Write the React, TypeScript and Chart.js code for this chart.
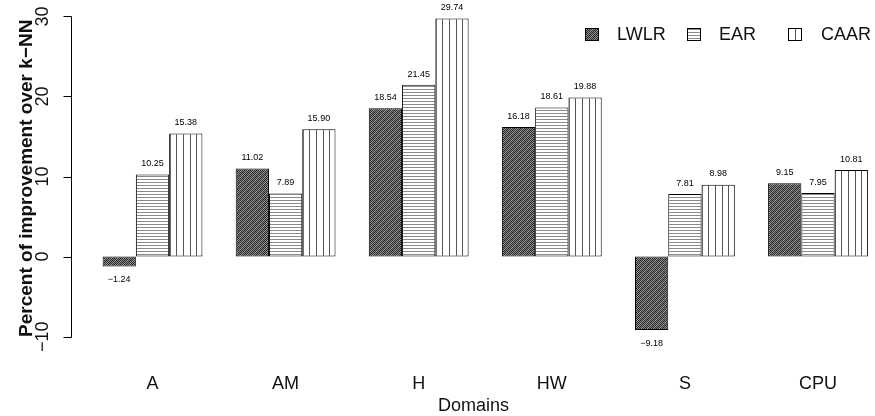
import React, { useEffect, useRef } from 'react';
import { Chart, registerables } from 'chart.js';

Chart.register(...registerables);

const categories = ['A', 'AM', 'H', 'HW', 'S', 'CPU'];
const seriesNames = ['LWLR', 'EAR', 'CAAR'];
const lwlrValues = [-1.24, 11.02, 18.54, 16.18, -9.18, 9.15];
const earValues = [10.25, 7.89, 21.45, 18.61, 7.81, 7.95];
const caarValues = [15.38, 15.9, 29.74, 19.88, 8.98, 10.81];
const yTickValues = [-10, 0, 10, 20, 30];
const xTitle = 'Domains';
const yTitle = 'Percent of improvement over k\u2212NN';

const FONT = '"Liberation Sans", Arial, Helvetica, sans-serif';

function fmtValue(v: number): string {
  const s = Math.abs(v).toFixed(2);
  return v < 0 ? '\u2212' + s : s;
}
function fmtTick(v: number): string {
  return v < 0 ? '\u2212' + Math.abs(v) : String(v);
}

function makePattern(ctx: CanvasRenderingContext2D, w: number, h: number, draw: (c: CanvasRenderingContext2D) => void) {
  const c = document.createElement('canvas');
  c.width = w;
  c.height = h;
  const tctx = c.getContext('2d') as CanvasRenderingContext2D;
  draw(tctx);
  return ctx.createPattern(c, 'repeat') as CanvasPattern;
}

export default function App() {
  const ref = useRef<HTMLCanvasElement | null>(null);

  useEffect(() => {
    const canvas = ref.current;
    if (!canvas) return;
    const ctx = canvas.getContext('2d') as CanvasRenderingContext2D;

    // LWLR: dark fine checker with light diagonal hatching
    const lwlrPat = makePattern(ctx, 6, 6, (t) => {
      const img = t.createImageData(6, 6);
      for (let y = 0; y < 6; y++) {
        for (let x = 0; x < 6; x++) {
          const s = (x + y) % 6;
          let v = (x + y) % 2 === 0 ? 0x2c : 0x7e;
          if (s === 3) v = 0xa6;
          const i = (y * 6 + x) * 4;
          img.data[i] = v; img.data[i + 1] = v; img.data[i + 2] = v; img.data[i + 3] = 255;
        }
      }
      t.putImageData(img, 0, 0);
    });
    // EAR: horizontal gray lines
    const earPat = makePattern(ctx, 4, 3, (t) => {
      t.fillStyle = '#ffffff';
      t.fillRect(0, 0, 4, 3);
      t.fillStyle = '#8a8a8a';
      t.fillRect(0, 2, 4, 1);
    });
    // CAAR: vertical dark lines
    const caarPat = makePattern(ctx, 133, 2, (t) => {
      t.fillStyle = '#ffffff';
      t.fillRect(0, 0, 133, 2);
      t.fillStyle = '#555555';
      for (let k = 0; k < 20; k++) {
        const px = Math.round(3.5 + k * 6.655) % 133;
        t.fillRect(px, 0, 1, 2);
      }
    });

    const seriesValues = [lwlrValues, earValues, caarValues];
    const patterns = [lwlrPat, earPat, caarPat];

    const decor = {
      id: 'decor',
      afterDatasetsDraw(chart: any) {
        const c = chart.ctx as CanvasRenderingContext2D;
        const ys = chart.scales.y;
        const area = chart.chartArea;
        c.save();
        // value labels
        c.font = `9px ${FONT}`;
        c.fillStyle = '#000';
        c.textAlign = 'center';
        c.textBaseline = 'middle';
        seriesValues.forEach((vals, di) => {
          const meta = chart.getDatasetMeta(di);
          meta.data.forEach((el: any, i: number) => {
            const v = vals[i];
            const yy = v >= 0 ? el.y - 10.7 : el.y + 13.3;
            c.fillText(fmtValue(v), el.x, yy);
          });
        });
        // y axis line and ticks
        c.strokeStyle = '#000';
        c.lineWidth = 1;
        const ax = Math.round(area.left) - 0.5;
        const yTop = Math.round(ys.getPixelForValue(yTickValues[yTickValues.length - 1])) + 0.5;
        const yBot = Math.round(ys.getPixelForValue(yTickValues[0])) + 0.5;
        c.beginPath();
        c.moveTo(ax, yTop);
        c.lineTo(ax, yBot);
        yTickValues.forEach((v) => {
          const py = Math.round(ys.getPixelForValue(v)) + 0.5;
          c.moveTo(ax, py);
          c.lineTo(ax - 8, py);
        });
        c.stroke();
        // y tick labels (rotated)
        c.font = `18px ${FONT}`;
        c.fillStyle = '#111';
        yTickValues.forEach((v) => {
          const py = ys.getPixelForValue(v);
          c.save();
          c.translate(area.left - 29, py);
          c.rotate(-Math.PI / 2);
          c.fillText(fmtTick(v), 0, 0);
          c.restore();
        });
        // y title
        c.font = `bold 19px ${FONT}`;
        c.save();
        c.translate(area.left - 45, (area.top + area.bottom) / 2 + 4);
        c.rotate(-Math.PI / 2);
        c.fillText(yTitle, 0, 0);
        c.restore();
        // legend
        const boxX = [585, 687, 788];
        const textX = [617, 719, 821];
        c.font = `18px ${FONT}`;
        c.textAlign = 'left';
        seriesNames.forEach((name, i) => {
          c.fillStyle = patterns[i];
          c.fillRect(boxX[i], 28, 14, 13);
          c.strokeStyle = '#000';
          c.strokeRect(boxX[i] + 0.5, 28.5, 13, 12);
          c.fillStyle = '#111';
          c.fillText(name, textX[i], 35);
        });
        c.restore();
      },
    };

    const chart = new Chart(canvas, {
      type: 'bar',
      data: {
        datasets: seriesNames.map((name, di) => ({
          label: name,
          data: seriesValues[di].map((v, i) => ({ x: i, y: v })),
          backgroundColor: patterns[di],
          borderColor: '#000',
          borderWidth: 1,
          borderSkipped: false,
          categoryPercentage: 0.75,
          barPercentage: 1,
        })),
      },
      options: {
        responsive: false,
        devicePixelRatio: 1,
        animation: false,
        layout: { padding: { left: 72, right: 0, top: 6, bottom: 0 } },
        plugins: {
          legend: { display: false },
          tooltip: { enabled: false },
        },
        scales: {
          x: {
            type: 'linear',
            offset: false,
            min: (72 - 152.5) / 133.1,
            max: (875 - 152.5) / 133.1,
            grid: { display: false, drawTicks: false },
            border: { display: false },
            afterBuildTicks: (axis: any) => {
              axis.ticks = categories.map((_, i) => ({ value: i }));
            },
            afterFit: (axis: any) => {
              axis.height = 73.4;
            },
            ticks: {
              autoSkip: false,
              maxRotation: 0,
              padding: 31,
              color: '#111',
              font: { family: FONT, size: 18 },
              callback: (v: any) => categories[Math.round(Number(v))] ?? '',
            },
            title: {
              display: true,
              text: xTitle,
              color: '#111',
              font: { family: FONT, size: 18, lineHeight: 1 },
              padding: { top: 0, bottom: 1 },
            },
          },
          y: {
            display: false,
            min: -10.74,
            max: 31.3,
          },
        },
      },
      plugins: [decor],
    } as any);

    return () => chart.destroy();
  }, []);

  return (
    <div style={{ position: 'fixed', left: 0, top: 0, width: 875, height: 416, background: '#fff' }}>
      <canvas ref={ref} width={875} height={416} />
    </div>
  );
}
